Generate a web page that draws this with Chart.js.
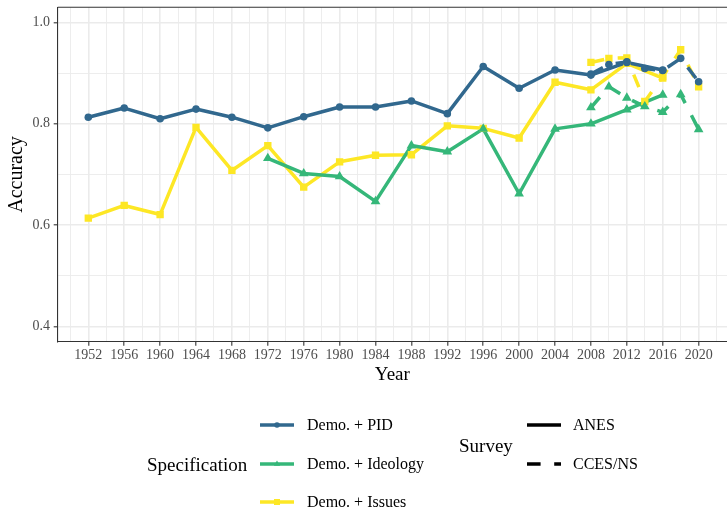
<!DOCTYPE html>
<html>
<head>
<meta charset="utf-8">
<script src="https://cdn.jsdelivr.net/npm/chart.js@4.4.1/dist/chart.umd.min.js"></script>
<style>
  html, body { margin: 0; padding: 0; background: #fff; overflow: hidden; }
  #wrap { position: relative; width: 727px; height: 509px; font-family: "Liberation Serif", serif; color: #000; }
  #chart { position: absolute; left: 0; top: 0; }
  .txt { position: absolute; white-space: nowrap; line-height: 1; transform: translateY(-50%); }
  .key { position: absolute; transform: translateY(-50%); }
</style>
</head>
<body>
<div id="wrap">
  <canvas id="chart" width="727" height="509"></canvas>
  <div id="legend"></div>
</div>
<script>
// Election years covered by each survey
const anesYears = [1952, 1956, 1960, 1964, 1968, 1972, 1976, 1980, 1984, 1988, 1992, 1996, 2000, 2004, 2008, 2012, 2016];
const anesIdeologyYears = [1972, 1976, 1980, 1984, 1988, 1992, 1996, 2000, 2004, 2008, 2012, 2016];
const ccesYears = [2008, 2010, 2012, 2014, 2016, 2018, 2020];

// Out-of-sample accuracy, ANES
const anesPid = [0.813, 0.831, 0.810, 0.829, 0.813, 0.792, 0.814, 0.833, 0.833, 0.845, 0.820, 0.913, 0.870, 0.906, 0.896, 0.921, 0.906];
const anesIdeology = [0.732, 0.702, 0.696, 0.647, 0.757, 0.745, 0.790, 0.662, 0.790, 0.800, 0.828, 0.857];
const anesIssues = [0.614, 0.639, 0.621, 0.793, 0.708, 0.757, 0.675, 0.725, 0.738, 0.739, 0.796, 0.791, 0.772, 0.882, 0.867, 0.919, 0.890];

// Out-of-sample accuracy, CCES / Nationscape
const ccesPid = [0.898, 0.917, 0.922, 0.909, 0.905, 0.929, 0.883];
const ccesIdeology = [0.832, 0.873, 0.851, 0.834, 0.823, 0.858, 0.789];
const ccesIssues = [0.921, 0.929, 0.930, 0.844, 0.893, 0.946, 0.873];

// Labels
const specLabels = ['Demo. + PID', 'Demo. + Ideology', 'Demo. + Issues'];
const surveyLabels = ['ANES', 'CCES/NS'];
const xTickYears = [1952, 1956, 1960, 1964, 1968, 1972, 1976, 1980, 1984, 1988, 1992, 1996, 2000, 2004, 2008, 2012, 2016, 2020];
const yTickValues = [0.4, 0.6, 0.8, 1.0];
const xTitle = 'Year';
const yTitle = 'Accuracy';
const specTitle = 'Specification';
const surveyTitle = 'Survey';

// Styling
const specColors = ['#31688E', '#35B779', '#FDE725'];
const specShapes = ['circle', 'triangle', 'rect'];
const specRadius = [3.8, 5.6, 5.2];
const surveyDash = [[], [13.6, 13.6]];
const FONT = '"Liberation Serif", serif';
const LINE_W = 3.5;

const pts = (xs, ys) => xs.map((x, i) => ({ x: x, y: ys[i] }));
const seriesData = [
  [pts(anesYears, anesPid), pts(ccesYears, ccesPid)],
  [pts(anesIdeologyYears, anesIdeology), pts(ccesYears, ccesIdeology)],
  [pts(anesYears, anesIssues), pts(ccesYears, ccesIssues)]
];

const datasets = [];
seriesData.forEach((pair, k) => {
  pair.forEach((data, s) => {
    // connecting line
    datasets.push({
      label: specLabels[k] + ' (' + surveyLabels[s] + ')',
      data: data,
      borderColor: specColors[k],
      borderWidth: LINE_W,
      borderDash: surveyDash[s],
      borderCapStyle: 'butt',
      borderJoinStyle: 'round',
      pointRadius: 0,
      pointHoverRadius: 0,
      tension: 0,
      fill: false,
      order: 180 + k * 10 + s
    });
    // markers, drawn above all lines
    datasets.push({
      label: specLabels[k] + ' (' + surveyLabels[s] + ') points',
      data: data,
      showLine: false,
      pointStyle: specShapes[k],
      pointRadius: specRadius[k],
      pointHoverRadius: specRadius[k],
      pointBackgroundColor: specColors[k],
      pointBorderColor: specColors[k],
      pointBorderWidth: 0,
      order: 100 + k * 10 + s
    });
  });
});

const yearStep = xTickYears[1] - xTickYears[0];
const isMajorX = v => xTickYears.includes(v);
const isMajorY = v => yTickValues.some(t => Math.abs(t - v) < 1e-9);

// top edge of the panel frame
const panelTop = {
  id: 'panelTop',
  afterDatasetsDraw(chart) {
    const { ctx, chartArea: a } = chart;
    ctx.save();
    ctx.strokeStyle = '#333333';
    ctx.lineWidth = 1.1;
    ctx.beginPath();
    ctx.moveTo(a.left, a.top);
    ctx.lineTo(a.right, a.top);
    ctx.stroke();
    ctx.restore();
  }
};

new Chart(document.getElementById('chart'), {
  type: 'line',
  data: { datasets: datasets },
  plugins: [panelTop],
  options: {
    responsive: false,
    devicePixelRatio: 1,
    animation: false,
    events: [],
    layout: { autoPadding: false, padding: { left: 0, right: 0, top: 7.3, bottom: 122.6 } },
    plugins: { legend: { display: false }, tooltip: { enabled: false } },
    scales: {
      x: {
        type: 'linear',
        min: 1948.59,
        max: 2023.16,
        afterBuildTicks: scale => {
          const ticks = [];
          const first = xTickYears[0] - yearStep / 2;
          const last = xTickYears[xTickYears.length - 1] + yearStep / 2;
          for (let v = first; v <= last; v += yearStep / 2) ticks.push({ value: v });
          scale.ticks = ticks;
        },
        afterFit: scale => {
          scale.height = 44.7;
          scale.paddingLeft = 0;
          scale.paddingRight = 0;
        },
        ticks: {
          autoSkip: false,
          maxRotation: 0,
          minRotation: 0,
          padding: 1.5,
          color: '#4D4D4D',
          font: { family: FONT, size: 14 },
          callback: v => isMajorX(v) ? String(v) : ''
        },
        grid: {
          color: '#EBEBEB',
          lineWidth: c => (c.tick && isMajorX(c.tick.value)) ? 1.6 : 0.9,
          drawTicks: true,
          tickLength: 4,
          tickWidth: 1.1,
          tickColor: c => (c.tick && isMajorX(c.tick.value)) ? '#333333' : 'rgba(0,0,0,0)'
        },
        border: { display: true, color: '#333333', width: 1.1 },
        title: {
          display: true,
          text: xTitle,
          color: '#000',
          font: { family: FONT, size: 19 },
          padding: { top: 0, bottom: 0 }
        }
      },
      y: {
        type: 'linear',
        min: 0.3703,
        max: 1.0297,
        afterBuildTicks: scale => {
          const ticks = [];
          for (let i = 0; i < yTickValues.length; i++) {
            ticks.push({ value: yTickValues[i] });
            if (i < yTickValues.length - 1) ticks.push({ value: (yTickValues[i] + yTickValues[i + 1]) / 2 });
          }
          scale.ticks = ticks;
        },
        afterFit: scale => {
          scale.width = 57.7;
          scale.paddingTop = 0;
          scale.paddingBottom = 0;
        },
        ticks: {
          padding: 3.7,
          color: '#4D4D4D',
          font: { family: FONT, size: 14 },
          callback: v => isMajorY(v) ? v.toFixed(1) : ''
        },
        grid: {
          color: '#EBEBEB',
          lineWidth: c => (c.tick && isMajorY(c.tick.value)) ? 1.6 : 0.9,
          drawTicks: true,
          tickLength: 4,
          tickWidth: 1.1,
          tickColor: c => (c.tick && isMajorY(c.tick.value)) ? '#333333' : 'rgba(0,0,0,0)'
        },
        border: { display: true, color: '#333333', width: 1.1 },
        title: {
          display: true,
          text: yTitle,
          color: '#000',
          font: { family: FONT, size: 20 },
          padding: { top: 4.5, bottom: 0 }
        }
      }
    }
  }
});

// Legend: colour/shape by specification, line type by survey
(function buildLegend() {
  const legend = document.getElementById('legend');
  const svgNS = 'http://www.w3.org/2000/svg';
  const addText = (text, x, y, size) => {
    const d = document.createElement('div');
    d.className = 'txt';
    d.textContent = text;
    d.style.left = x + 'px';
    d.style.top = y + 'px';
    d.style.fontSize = size + 'px';
    legend.appendChild(d);
  };
  const addKey = (x, y, color, dash, shape) => {
    const w = 34, h = 14;
    const svg = document.createElementNS(svgNS, 'svg');
    svg.setAttribute('width', w);
    svg.setAttribute('height', h);
    svg.setAttribute('class', 'key');
    svg.style.left = x + 'px';
    svg.style.top = y + 'px';
    const ln = document.createElementNS(svgNS, 'line');
    ln.setAttribute('x1', 0); ln.setAttribute('y1', h / 2);
    ln.setAttribute('x2', w); ln.setAttribute('y2', h / 2);
    ln.setAttribute('stroke', color);
    ln.setAttribute('stroke-width', LINE_W);
    if (dash.length) ln.setAttribute('stroke-dasharray', dash.join(' '));
    svg.appendChild(ln);
    const cx = w / 2, cy = h / 2;
    let m = null;
    if (shape === 'circle') {
      m = document.createElementNS(svgNS, 'circle');
      m.setAttribute('cx', cx); m.setAttribute('cy', cy); m.setAttribute('r', 2.8);
    } else if (shape === 'triangle') {
      m = document.createElementNS(svgNS, 'polygon');
      const r = 3.6;
      m.setAttribute('points', [
        [cx, cy - r], [cx + r * 0.866, cy + r / 2], [cx - r * 0.866, cy + r / 2]
      ].map(p => p.join(',')).join(' '));
    } else if (shape === 'rect') {
      m = document.createElementNS(svgNS, 'rect');
      m.setAttribute('x', cx - 3); m.setAttribute('y', cy - 3);
      m.setAttribute('width', 6); m.setAttribute('height', 6);
    }
    if (m) { m.setAttribute('fill', color); svg.appendChild(m); }
    legend.appendChild(svg);
  };

  const specRows = [425, 463.5, 502];
  addText(specTitle, 147, 464, 19);
  specLabels.forEach((lab, k) => {
    addKey(260, specRows[k], specColors[k], [], specShapes[k]);
    addText(lab, 307, specRows[k], 16);
  });

  const surveyRows = [425, 463.5];
  addText(surveyTitle, 459, 445, 19);
  surveyLabels.forEach((lab, s) => {
    addKey(527, surveyRows[s], '#000', surveyDash[s], null);
    addText(lab, 573, surveyRows[s], 16);
  });
})();
</script>
</body>
</html>
